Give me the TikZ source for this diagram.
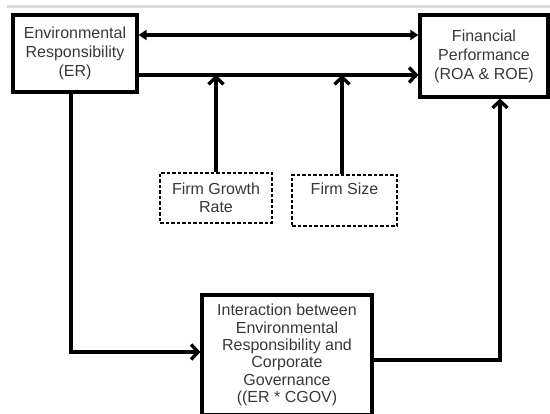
\documentclass[tikz,border=0pt]{standalone}
\usepackage{fontspec}
\setmainfont{Liberation Sans}
\usetikzlibrary{arrows.meta}
\definecolor{textColor}{rgb}{0.22,0.22,0.22}
\definecolor{rimColor}{rgb}{0.85,0.85,0.87}

\begin{document}
\begin{tikzpicture}[x=1pt,y=-1pt]

          \tikzstyle{mainNode} = [draw, line width=3.2pt, align=center, text=textColor, font=\fontsize{16}{19}\selectfont, inner sep=2pt];
          \tikzstyle{controlNode} = [draw, line width=1.6pt, dash pattern=on 3.5pt off 2pt, align=center, text=textColor, font=\fontsize{16}{18}\selectfont, inner sep=2pt];

          \tikzstyle{mainEdge} = [line width=3.4pt, -{Straight Barb[length=7pt,width=15pt]}];
          \tikzstyle{bothEdge} = [line width=3.2pt, {Triangle[length=8pt,width=10pt]}-{Triangle[length=8pt,width=10pt]}];

          \useasboundingbox (0,0) rectangle (550,414);
          \draw[rimColor, line width=2.4pt] (7,6.5) -- (550,6.5);

          \node[mainNode, minimum width=124pt, minimum height=77pt] (er) at (75,53.5) {Environmental\\Responsibility\\(ER)};
          \node[mainNode, minimum width=128pt, minimum height=82pt] (fp) at (484,56) {Financial\\Performance\\(ROA \& ROE)};
          \node[controlNode, minimum width=112pt, minimum height=50pt] (growth) at (216,198) {Firm Growth\\Rate};
          \node[controlNode, minimum width=105pt, minimum height=51pt] (size) at (344.5,200.5) {Firm Size\\\strut};
          \node[mainNode, minimum width=170pt, minimum height=120pt, font=\fontsize{16}{17.3}\selectfont] (inter) at (287,355) {Interaction between\\Environmental\\Responsibility and\\Corporate\\Governance\\((ER * CGOV)};

          \draw[bothEdge] ([yshift=18.5pt]er.east) coordinate (upper) -- (upper -| fp.west);
          \draw[mainEdge] ([yshift=-21.5pt]er.east) coordinate (lower) -- (lower -| fp.west);
          \draw[mainEdge] (growth.north) -- (growth.north |- lower);
          \draw[mainEdge] ([xshift=-2.5pt]size.north) -- ([xshift=-2.5pt]size.north |- lower);
          \draw[mainEdge] ([xshift=-4pt]er.south) |- ([yshift=3pt]inter.west);
          \draw[mainEdge] ([yshift=-5pt]inter.east) -| ([xshift=16pt]fp.south);
        \end{tikzpicture}
\end{document}
